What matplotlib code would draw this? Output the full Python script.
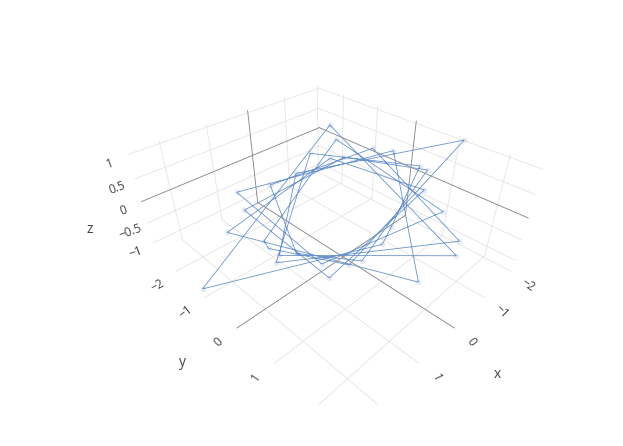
import matplotlib
matplotlib.use('Agg')
import matplotlib.pyplot as plt
from matplotlib.transforms import Bbox
from mpl_toolkits.mplot3d import proj3d

plt.rcParams['font.family'] = ['Open Sans', 'DejaVu Sans']

# data, in drawing order
x = [-2.03, 2.59, 0.38, -0.11, -2.00, -0.97, 1.92, -0.60, -1.99, 0.51, 1.54, 0.93, -2.05, -1.37, 1.40, 1.57,
     -1.51, -1.12, 2.01, 0.69, -1.99, 1.14, 1.43, -1.14, -1.88, 1.71, 1.78, 1.14, -1.98, -0.16, 1.77, -0.24]
y = [-2.41, -1.02, 1.23, 1.03, 0.25, -1.97, 0.34, 2.09, -1.02, -1.55, 0.40, 1.27, 0.41, -1.31, -1.20, 1.18,
     0.73, -1.49, -0.86, 2.19, -0.45, -1.80, 0.87, 1.41, -2.05, -0.23, -0.02, 1.19, 1.13, -1.53, 0.24, 2.26]
z = [0.20, -1.05, 0.00, 0.00, 0.15, 0.00, 0.00, 0.00, 0.10, 0.00, 0.00, 0.00, 0.10, 0.00, 0.00, 0.00,
     0.00, 0.00, 0.00, 0.00, 0.25, 0.00, 0.00, 0.00, 0.00, 0.00, 0.00, 0.00, 1.05, 0.00, 0.00, 0.00]

x_ticks = [-2, -1, 0, 1, 2]
y_ticks = [-2, -1, 0, 1, 2]
z_ticks = [-1, -0.5, 0, 0.5, 1]
x_rng = (-2.05, 2.6)
y_rng = (-2.8, 2.6)
z_rng = (-1.25, 1.05)

fig = plt.figure(figsize=(6.23, 4.46), dpi=100)
cx, cy = 330, 214
ax = fig.add_axes([(cx - 0.5135 * 446) / 623, (446 - cy - 0.5135 * 446) / 446, 446 / 623, 1],
                  projection='3d', proj_type='persp', focal_length=0.191)
ax.view_init(elev=35.26, azim=45)
ax.set_box_aspect((x_rng[1] - x_rng[0], y_rng[1] - y_rng[0], z_rng[1] - z_rng[0]), zoom=0.88)
ax.set_xlim(*x_rng)
ax.set_ylim(*y_rng)
ax.set_zlim(*z_rng)
ax.set_axis_off()
ax.computed_zorder = False
ax.patch.set_alpha(0)

# the scene is cut off at the bottom
clip = Bbox([[0, 40], [623, 446]])


def grid_line(xs, ys, zs, v):
    line, = ax.plot(xs, ys, zs, color='#808080' if v == 0 else '#e4e4e4', lw=0.6, zorder=2 if v == 0 else 1)
    line.set_clip_path(None)
    line.set_clip_box(clip)


for v in x_ticks:
    grid_line([v, v], y_rng, [z_rng[0]] * 2, v)
    grid_line([v, v], [y_rng[0]] * 2, z_rng, v)
for v in y_ticks:
    grid_line(x_rng, [v, v], [z_rng[0]] * 2, v)
    grid_line([x_rng[0]] * 2, [v, v], z_rng, v)
for v in z_ticks:
    grid_line(x_rng, [y_rng[0]] * 2, [v, v], v)
    grid_line([x_rng[0]] * 2, y_rng, [v, v], v)

# Лінія і маркери
ax.plot(x + x[:1], y + y[:1], z + z[:1], color='#6a93cc', lw=0.6, zorder=3)
ax.scatter(x, y, z, s=18, color='#1f4e9c', alpha=0.1, linewidths=0, depthshade=False, zorder=4)

fig.canvas.draw()
M = ax.get_proj()


def tick_label(px, py, pz, v, dx, dy, rot):
    sx, sy, _ = proj3d.proj_transform(px, py, pz, M)
    ax.annotate(str(v).replace('-', '\u2212'), (sx, sy), xytext=(dx, dy), textcoords='offset pixels',
                rotation=rot, rotation_mode='anchor', fontsize=8.6, color='#444444',
                ha='center', va='center', annotation_clip=False)


for v, rot in zip(x_ticks[:4], [-35, -45, -55, -65]):
    tick_label(v, y_rng[1], z_rng[0], v, 17, -14, rot)
for v, rot in zip(y_ticks[:4], [30, 38, 45, 55]):
    tick_label(x_rng[1], v, z_rng[0], v, -19, -14, rot)
for v in z_ticks:
    tick_label(x_rng[1], y_rng[0], v, v, -18, -9, 20)

for name, px, py in [('x', 497, 374), ('y', 182, 362), ('z', 90, 229)]:
    fig.text(px / 623, 1 - py / 446, name, fontsize=10, color='#444444', ha='center', va='center')

fig.savefig('out.png', dpi=100)
